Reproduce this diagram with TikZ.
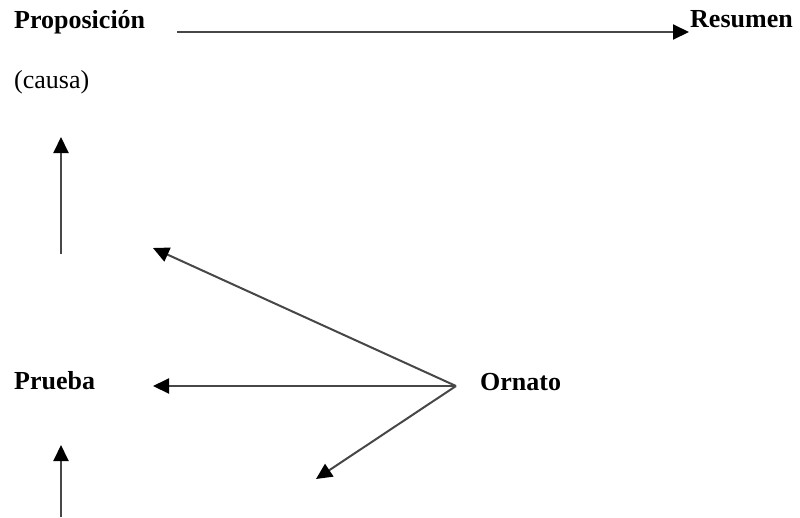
\documentclass[tikz,border=0pt]{standalone}
\usepackage{fontspec}
\setmainfont{Liberation Serif}
\usetikzlibrary{arrows.meta}

\begin{document}
\begin{tikzpicture}[x=1pt, y=-1pt,
  every node/.style={font=\fontsize{26}{30}\selectfont, inner sep=0pt, anchor=base west},
  title/.style={font=\fontsize{26}{30}\selectfont\bfseries},
  link/.style={draw=black!72, line width=2pt, -{Triangle[length=16pt, width=15pt, color=black]}}]
\useasboundingbox (0,0) rectangle (800,517);
% labels
\node[title] (prop) at (14,28) {Proposición};
\node (causa) at (14,88) {(causa)};
\node[title] (res) at (690,27) {Resumen};
\node[title] (prueba) at (14,389) {Prueba};
\node[title] (ornato) at (480,390) {Ornato};
% free ends of the arrows
\coordinate (top0) at (177,32);
\coordinate (top1) at (689,32);
\coordinate (up0) at (61,254);
\coordinate (up1) at (61,137);
\coordinate (low0) at (61,517);
\coordinate (low1) at (61,445);
\coordinate (hub) at (456,386);
\coordinate (tipA) at (153,248);
\coordinate (tipB) at (153,386);
\coordinate (tipC) at (316,479);
% arrows
\draw[link] (top0) -- (top1);
\draw[link] (up0) -- (up1);
\draw[link] (low0) -- (low1);
\draw[link] (hub) -- (tipA);
\draw[link] (hub) -- (tipB);
\draw[link] (hub) -- (tipC);
\end{tikzpicture}
\end{document}
